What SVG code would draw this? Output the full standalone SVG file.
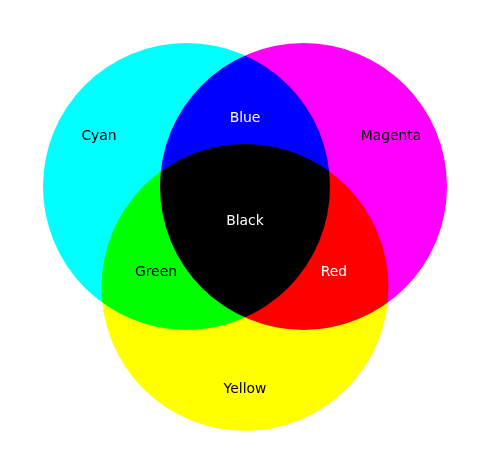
<svg xmlns="http://www.w3.org/2000/svg" width="490" height="474" viewBox="0 0 490 474">
<style>
.c{mix-blend-mode:multiply}
text{font-family:"DejaVu Sans",sans-serif;font-size:13.9px;text-anchor:middle;dominant-baseline:central}
.d{fill:#000}.w{fill:#fff}
</style>
<rect width="490" height="474" fill="#fff"/>
<g style="isolation:isolate">
<g id="cyan"><circle class="c" cx="186.5" cy="186.5" r="143.5" fill="#00ffff"/></g>
<g id="magenta"><circle class="c" cx="303.5" cy="186.5" r="143.5" fill="#ff00ff"/></g>
<g id="yellow"><circle class="c" cx="245" cy="287.5" r="143.5" fill="#ffff00"/></g>
</g>
<g id="labels">
<text class="d" x="99" y="135">Cyan</text>
<text class="d" x="391" y="135">Magenta</text>
<text class="d" x="245" y="388">Yellow</text>
<text class="w" x="245" y="117">Blue</text>
<text class="d" x="156" y="271">Green</text>
<text class="w" x="334" y="271">Red</text>
<text class="w" x="245" y="220">Black</text>
</g>
</svg>
